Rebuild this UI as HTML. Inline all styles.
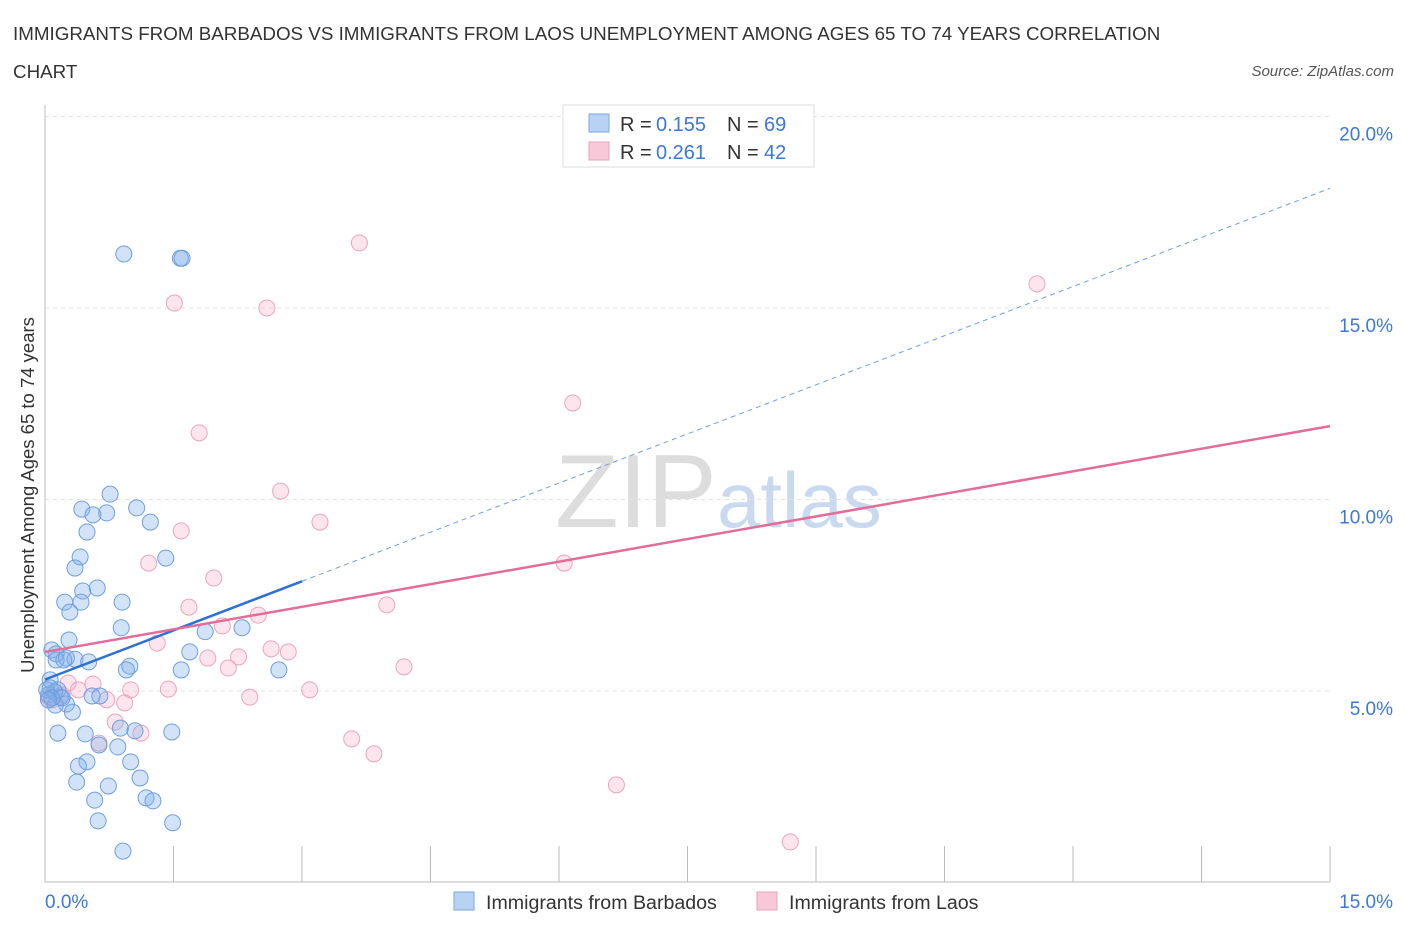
<!DOCTYPE html>
<html><head><meta charset="utf-8"><style>
body{margin:0;background:#fff;font-family:"Liberation Sans",sans-serif;}
svg text{font-family:"Liberation Sans",sans-serif;}
</style></head><body>
<svg id="chart" width="1406" height="930">
<text x="13" y="40" font-size="18.8" fill="#333">IMMIGRANTS FROM BARBADOS VS IMMIGRANTS FROM LAOS UNEMPLOYMENT AMONG AGES 65 TO 74 YEARS CORRELATION</text>
<text x="13" y="78" font-size="18.8" fill="#333">CHART</text>
<text x="1394" y="76" font-size="15" fill="#555" font-style="italic" text-anchor="end">Source: ZipAtlas.com</text>
<text x="555" y="527" font-size="104" fill="#ddd" font-family="Liberation Serif">ZIP</text>
<text x="717" y="527" font-size="78" fill="#c9daf0">atlas</text>
<text x="34" y="495" font-size="18.5" fill="#333" text-anchor="middle" transform="rotate(-90 34 495)">Unemployment Among Ages 65 to 74 years</text>
<g id="grid"></g><g id="marks"></g>
<g>
<rect x="563" y="105" width="251" height="62" fill="#fff" stroke="#ddd"/>
<rect x="589" y="114" width="20" height="18" fill="#b8d2f4" stroke="#7aa7e0"/>
<text x="620" y="131" font-size="20" fill="#333">R =</text><text x="656" y="131" font-size="20" fill="#3b78d8">0.155</text>
<text x="727" y="131" font-size="20" fill="#333">N =</text><text x="764" y="131" font-size="20" fill="#3b78d8">69</text>
<rect x="589" y="142" width="20" height="18" fill="#f8c8d8" stroke="#eaa0b8"/>
<text x="620" y="159" font-size="20" fill="#333">R =</text><text x="656" y="159" font-size="20" fill="#3b78d8">0.261</text>
<text x="727" y="159" font-size="20" fill="#333">N =</text><text x="764" y="159" font-size="20" fill="#3b78d8">42</text>
</g>
<g>
<rect x="454" y="892" width="20" height="18" fill="#b8d2f4" stroke="#7aa7e0"/>
<text x="486" y="909" font-size="19.6" fill="#333">Immigrants from Barbados</text>
<rect x="757" y="892" width="20" height="18" fill="#f8c8d8" stroke="#eaa0b8"/>
<text x="789" y="909" font-size="19.6" fill="#333">Immigrants from Laos</text>
</g>
</svg>
<script>
const blueX=[0.92,1.58,1.60,0.76,1.07,0.43,0.56,0.72,1.23,0.49,0.41,1.41,0.35,0.61,0.44,0.23,0.42,0.90,0.29,0.89,2.30,1.87,0.28,0.08,0.13,0.25,0.35,0.51,1.69,0.99,0.95,1.59,2.73,0.06,0.15,0.04,0.18,0.55,0.25,0.32,0.15,0.47,0.88,1.05,1.48,0.63,0.85,0.49,0.39,1.00,0.37,0.74,1.11,0.58,1.18,1.26,0.62,1.49,0.91,0.06,0.11,0.20,0.02,0.13,0.22,0.12,0.08,0.04,0.64];
const blueY=[16.41,16.30,16.30,10.14,9.78,9.75,9.60,9.65,9.41,9.15,8.50,8.47,8.21,7.69,7.61,7.32,7.32,7.32,7.06,6.65,6.65,6.55,6.33,6.07,5.97,5.86,5.83,5.76,6.02,5.65,5.55,5.55,5.55,5.29,5.03,4.90,4.84,4.87,4.66,4.45,3.90,3.88,4.03,3.96,3.93,3.59,3.54,3.15,3.04,3.15,2.62,2.52,2.73,2.15,2.21,2.13,1.61,1.56,0.82,5.08,4.98,4.82,5.03,5.81,5.81,4.63,4.82,4.77,4.87];
const pinkX=[3.67,11.58,1.51,2.59,6.16,1.80,2.75,3.21,1.59,1.21,6.06,1.97,1.68,3.99,2.49,2.07,1.31,2.64,2.84,1.90,2.26,2.14,4.19,0.27,0.56,1.44,1.00,3.09,2.39,0.72,0.93,0.08,0.04,0.82,1.12,0.63,3.58,3.84,6.67,8.70,0.39,0.20];
const pinkY=[16.70,15.63,15.13,15.00,12.52,11.74,10.22,9.41,9.18,8.34,8.34,7.95,7.19,7.25,6.98,6.70,6.25,6.10,6.02,5.86,5.89,5.60,5.63,5.21,5.18,5.05,5.03,5.03,4.84,4.77,4.69,4.77,4.84,4.19,3.90,3.64,3.75,3.36,2.55,1.06,5.03,4.90];
const blueTrend=[5.3,0.855]; // intercept, slope
const pinkTrend=[6.02,0.393];
const yTicks=[5,10,15,20];
const yTickLabels=["5.0%","10.0%","15.0%","20.0%"];
const xTicks=[0,1.5,3,4.5,6,7.5,9,10.5,12,13.5,15];

const ns="http://www.w3.org/2000/svg";
const X=v=>45+v/15*1285, Y=v=>882.5-v/5*191.5;
function mk(t,a,p){const e=document.createElementNS(ns,t);for(const k in a)e.setAttribute(k,a[k]);p.appendChild(e);return e;}
const grid=document.getElementById('grid'),marks=document.getElementById('marks');
yTicks.forEach((v,i)=>{
 const l=mk('line',{x1:45,x2:1330,y1:Y(v),y2:Y(v),stroke:'#e2e2e2','stroke-dasharray':'4,4'},grid);
 
 
 const t=mk('text',{x:1393,y:Y(v)+24,'font-size':19,fill:'#3b78d8','text-anchor':'end'},grid);
 t.textContent=yTickLabels[i];
 
 
});
const ax=mk('line',{x1:45,x2:45,y1:105,y2:882,stroke:'#bbb'},grid);


const bx=mk('line',{x1:45,x2:1330,y1:882,y2:882,stroke:'#bbb'},grid);


xTicks.forEach(v=>{const l=mk('line',{x1:X(v),x2:X(v),y1:846,y2:882,stroke:'#bbb'},grid);
 
 });
[[0,'0.0%','start',45],[15,'15.0%','end',1393]].forEach(d=>{const t=mk('text',{x:d[3],y:908,'font-size':19,fill:'#3b78d8','text-anchor':d[2]},grid);t.textContent=d[1];
 
 });
pinkX.forEach((x,i)=>{const c=mk('circle',{cx:X(x),cy:Y(pinkY[i]),r:8,fill:'rgba(244,170,196,0.3)',stroke:'#eca3bc','stroke-width':1},marks);
 
 });
blueX.forEach((x,i)=>{const c=mk('circle',{cx:X(x),cy:Y(blueY[i]),r:8,fill:'rgba(130,175,232,0.35)',stroke:'#6d9fe0','stroke-width':1},marks);
 
 });
const bl=mk('line',{x1:X(0),y1:Y(blueTrend[0]),x2:X(3),y2:Y(blueTrend[0]+3*blueTrend[1]),stroke:'#2f6fd6','stroke-width':2.5},marks);


const bd=mk('line',{x1:X(3),y1:Y(blueTrend[0]+3*blueTrend[1]),x2:X(15),y2:Y(blueTrend[0]+15*blueTrend[1]),stroke:'#6d9fe0','stroke-width':1,'stroke-dasharray':'5,4'},marks);


const pl=mk('line',{x1:X(0),y1:Y(pinkTrend[0]),x2:X(15),y2:Y(pinkTrend[0]+15*pinkTrend[1]),stroke:'#e46c98','stroke-width':2.5},marks);


</script>
</body></html>
